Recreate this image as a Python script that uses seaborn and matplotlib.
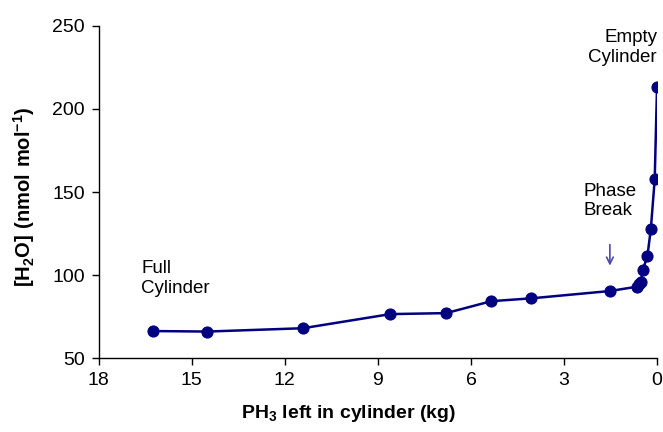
import matplotlib
matplotlib.use("Agg")
import matplotlib.pyplot as plt
import seaborn as sns
import pandas as pd

ph3_left = [16.25, 14.5, 11.42, 8.6, 6.8, 5.34, 4.05, 1.52, 0.65, 0.58, 0.52, 0.46, 0.31, 0.2, 0.075, 0.0]
h2o = [66.3, 66.0, 68.0, 76.5, 77.1, 84.3, 86.0, 90.4, 93.0, 94.5, 96.0, 103.0, 111.5, 127.7, 157.6, 213.4]

df = pd.DataFrame({"x": ph3_left, "y": h2o})

sns.set_theme(style="ticks")
plt.rcParams['font.family'] = ['Liberation Sans', 'DejaVu Sans']
plt.rcParams['mathtext.fontset'] = 'custom'
plt.rcParams['mathtext.rm'] = 'Liberation Sans'
plt.rcParams['mathtext.bf'] = 'Liberation Sans:bold'
plt.rcParams['text.color'] = 'black'
plt.rcParams['axes.labelcolor'] = 'black'

fig = plt.figure(figsize=(6.63, 4.32), dpi=100)
ax = fig.add_axes([0.149, 0.171, 0.842, 0.769])
color = "#000080"
sns.lineplot(data=df, x="x", y="y", ax=ax, color=color, lw=1.8, sort=False,
             marker="o", markersize=8, markeredgecolor=color, estimator=None)

ax.set_xlim(18, 0)
ax.set_ylim(50, 250)
ax.set_xticks([18, 15, 12, 9, 6, 3, 0])
ax.set_yticks([50, 100, 150, 200, 250])
ax.tick_params(labelsize=14, direction="out", length=5, width=1, colors="black", pad=5)
for s in ["top", "right"]:
    ax.spines[s].set_visible(False)
for s in ["left", "bottom"]:
    ax.spines[s].set_color("black")
    ax.spines[s].set_linewidth(1)

ax.set_xlabel(r"$\mathbf{PH_3}$ left in cylinder (kg)", fontsize=14, fontweight="bold")
ax.xaxis.set_label_coords(0.447, -0.135)
ax.set_ylabel(r"$\mathbf{[H_2O]\ (nmol\ mol^{-1})}$", fontsize=14.5, fontweight="bold")
ax.yaxis.set_label_coords(-0.111, 0.485)

ax.text(16.63, 98, "Full\nCylinder", fontsize=13.5, ha="left", va="center", linespacing=1.2)
ax.text(0.0, 237, "Empty\nCylinder", fontsize=13.5, ha="right", va="center", linespacing=1.2)
ax.text(2.36, 144.6, "Phase\nBreak", fontsize=13.5, ha="left", va="center", linespacing=1.2)
ax.annotate("", xy=(1.52, 104), xytext=(1.52, 120),
            arrowprops=dict(arrowstyle="->", color="#4a4aa8", lw=1.2))

fig.savefig("out.png", dpi=100)
